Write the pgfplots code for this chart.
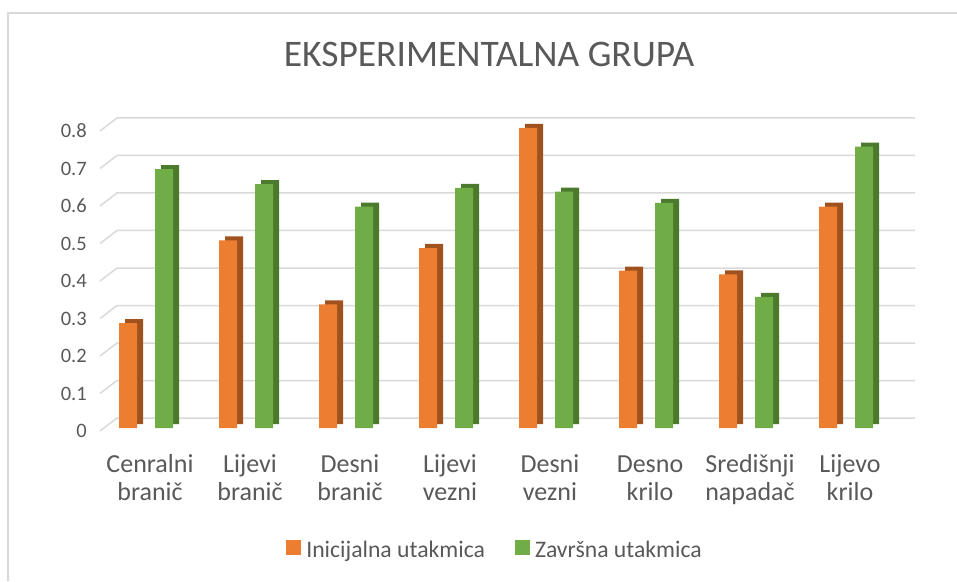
\documentclass[border=0pt]{standalone}
\usepackage{pgfplots}
\pgfplotsset{compat=1.18}
\usepackage{fontspec}
\setmainfont{Carlito}
\definecolor{orA}{HTML}{ED7D31}
\definecolor{orSide}{HTML}{A0521E}
\definecolor{grA}{HTML}{70AD47}
\definecolor{grSide}{HTML}{4B7A2D}
\definecolor{txt}{HTML}{595959}
\definecolor{gridc}{HTML}{D9D9D9}
\newcommand{\sv}{\strut}
\begin{document}
\begin{tikzpicture}[x=1pt,y=1pt]
\useasboundingbox (0,0) rectangle (957,581);
\draw[gridc, line width=1.3pt] (8,0) -- (8,568) -- (957,568);
\node[text=txt, font=\fontsize{37.5}{44}\selectfont] at (489,527) {EKSPERIMENTALNA GRUPA};
\begin{axis}[
  at={(100pt,150pt)}, anchor=south west,
  scale only axis, width=798pt, height=300pt,
  xmin=-0.46, xmax=7.52, ymin=0, ymax=0.8,
  axis line style={draw=none},
  major tick length=0pt,
  ytick={0,0.1,0.2,0.3,0.4,0.5,0.6,0.7,0.8},
  yticklabels={0,0.1,0.2,0.3,0.4,0.5,0.6,0.7,0.8},
  yticklabel style={text=txt, font=\fontsize{20.5}{24}\selectfont, anchor=east, inner sep=0pt, xshift=-13pt},
  xtick={0,1,2,3,4,5,6,7},
  xticklabels={\sv Cenralni\\\sv branič, \sv Lijevi\\\sv branič, \sv Desni\\\sv branič, \sv Lijevi\\\sv vezni, \sv Desni\\\sv vezni, \sv Desno\\\sv krilo, \sv Središnji\\\sv napadač, \sv Lijevo\\\sv krilo},
  xticklabel style={text=txt, align=center, font=\fontsize{26}{28.3}\selectfont, anchor=north, inner sep=0pt, yshift=-21pt, xshift=4pt},
  ybar, bar width=18pt,
  clip=false,
  legend style={at={(0.495,-0.397)}, anchor=center, draw=none, fill=none,
    legend columns=2, font=\fontsize{23.7}{27}\selectfont, text=txt,
    /tikz/every even column/.append style={column sep=28pt}},
  legend image code/.code={\fill[#1] (0pt,-7.5pt) rectangle (15pt,7.5pt); \path (15pt,0pt) -- (18pt,0pt);},
]
\pgfplotsinvokeforeach{0,0.1,0.2,0.3,0.4,0.5,0.6,0.7,0.8}{
  \draw[gridc, line width=1.5pt] (axis cs:-0.46,#1) -- ++(17pt,13pt) -- ++(798pt,0pt);
}
\addplot[fill=orSide, draw=none, bar shift=-12pt, yshift=7pt, forget plot] coordinates {
(0,0.28) (1,0.50) (2,0.33) (3,0.48) (4,0.80) (5,0.42) (6,0.41) (7,0.59)};
\addplot[fill=grSide, draw=none, bar shift=24pt, yshift=7pt, forget plot] coordinates {
(0,0.69) (1,0.65) (2,0.59) (3,0.64) (4,0.63) (5,0.60) (6,0.35) (7,0.75)};
\addplot[fill=orA, draw=none, bar shift=-18pt, yshift=3pt] coordinates {
(0,0.28) (1,0.50) (2,0.33) (3,0.48) (4,0.80) (5,0.42) (6,0.41) (7,0.59)};
\addplot[fill=grA, draw=none, bar shift=18pt, yshift=3pt] coordinates {
(0,0.69) (1,0.65) (2,0.59) (3,0.64) (4,0.63) (5,0.60) (6,0.35) (7,0.75)};
\legend{Inicijalna utakmica, Završna utakmica}
\end{axis}
\end{tikzpicture}
\end{document}
